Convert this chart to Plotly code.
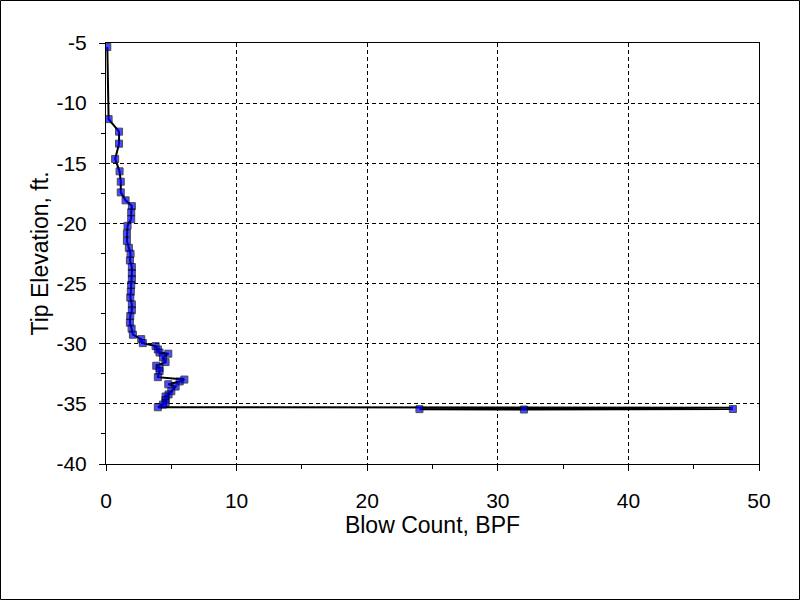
import plotly.graph_objects as go

# Blow count log (blows per foot vs tip elevation)
blow_count = [
    0.1, 0.2, 1.0, 1.0, 0.7, 1.04, 1.13, 1.13, 1.5, 1.98, 1.93, 1.93,
    1.65, 1.6, 1.6, 1.75, 1.88, 1.83, 1.98, 1.98, 1.98, 1.93, 1.9, 1.86,
    1.98, 1.98, 1.86, 1.83, 1.96, 2.06, 2.7, 2.82, 3.8, 3.97, 4.1, 4.77,
    4.36, 4.56, 3.85, 4.1, 4.1, 3.97, 6.0, 5.64, 4.77, 5.33, 5.0, 4.79,
    4.56, 4.56, 4.56, 4.36, 3.97, 48.0, 24.0, 32.0, 48.0,
]
tip_elevation = [
    -5.33, -11.33, -12.37, -13.37, -14.64, -15.67, -16.53, -17.42, -18.08,
    -18.56, -19.08, -19.64, -20.2, -20.83, -21.45, -22.03, -22.53, -23.08,
    -23.62, -24.14, -24.64, -25.12, -25.67, -26.17, -26.73, -27.22, -27.7,
    -28.25, -28.75, -29.25, -29.62, -29.95, -30.2, -30.48, -30.73, -30.83,
    -31.14, -31.53, -31.83, -32.03, -32.28, -32.78, -32.98, -33.14, -33.37,
    -33.56, -33.95, -34.22, -34.39, -34.67, -34.92, -35.06, -35.28, -35.32,
    -35.44, -35.47, -35.43,
]

# tick labels with a plain hyphen, as in the original
x_ticks = [0, 10, 20, 30, 40, 50]
x_labels = ['0', '10', '20', '30', '40', '50']
y_ticks = [-5, -10, -15, -20, -25, -30, -35, -40]
y_labels = ['-5', '-10', '-15', '-20', '-25', '-30', '-35', '-40']

# the first return to 48 is a line vertex only
marker_sizes = [7] * len(blow_count)
marker_sizes[-4] = 0

FONT = "Liberation Sans, Arial, sans-serif"

fig = go.Figure()

fig.add_trace(go.Scatter(
    x=blow_count,
    y=tip_elevation,
    mode='lines+markers',
    line=dict(color='black', width=2),
    marker=dict(symbol='square', size=marker_sizes, color='#0000FF',
                line=dict(color='black', width=1)),
    showlegend=False,
))

axis_common = dict(
    showline=True,
    linecolor='black',
    linewidth=1,
    mirror=True,
    showgrid=True,
    gridcolor='black',
    gridwidth=1,
    griddash='4px,3px',
    zeroline=False,
    ticks='outside',
    ticklen=6,
    tickcolor='black',
    tickfont=dict(family=FONT, size=21, color='black'),
    minor=dict(ticks='outside', ticklen=4, tickcolor='black', showgrid=False),
)

fig.update_xaxes(
    range=[0, 50],
    tickvals=x_ticks,
    ticktext=x_labels,
    minor_dtick=5,
    ticklabelstandoff=12,
    title=dict(text='Blow Count, BPF', font=dict(family=FONT, size=23, color='black'),
               standoff=4),
    **axis_common,
)
fig.update_yaxes(
    range=[-40, -5],
    tickvals=y_ticks,
    ticktext=y_labels,
    minor_dtick=2.5,
    ticklabelstandoff=8,
    title=dict(text='Tip Elevation, ft.', font=dict(family=FONT, size=23, color='black'),
               standoff=1),
    **axis_common,
)

# thin frame around the whole picture
fig.add_shape(
    type='rect', xref='paper', yref='paper',
    x0=(0.5 - 106) / 653, x1=(799.5 - 106) / 653,
    y0=(464 - 599.5) / 421, y1=(464 - 0.5) / 421,
    line=dict(color='black', width=1),
)

fig.update_layout(
    width=800,
    height=600,
    margin=dict(l=106, r=41, t=43, b=136),
    plot_bgcolor='white',
    paper_bgcolor='white',
    font=dict(family=FONT, color='black'),
)

fig.write_html("out.html", config={'displayModeBar': False},
               post_script="document.body.style.margin='0px';")
